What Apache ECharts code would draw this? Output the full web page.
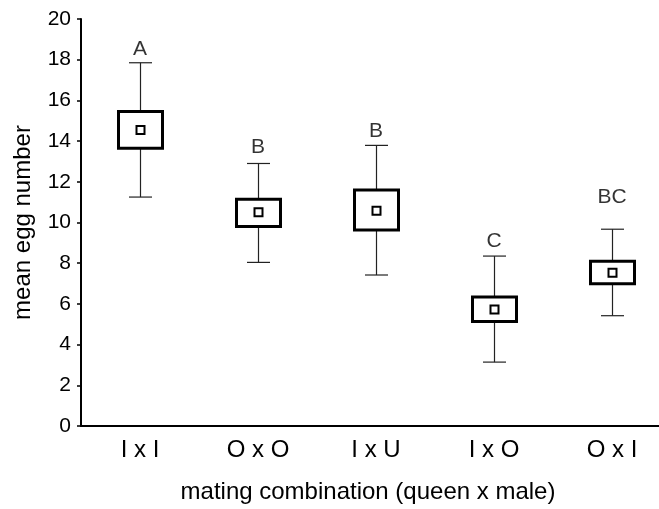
<!DOCTYPE html>
<html><head><meta charset="utf-8">
<script src="https://cdn.jsdelivr.net/npm/echarts@6/dist/echarts.min.js"></script>
<style>html,body{margin:0;padding:0;background:#fff}#c{width:659px;height:509px}</style>
</head><body><div id="c"></div>
<script>
const categories = ['I x I', 'O x O', 'I x U', 'I x O', 'O x I'];
const whiskerLow = [11.25, 8.04, 7.42, 3.14, 5.42];
const boxLow = [13.65, 9.80, 9.63, 5.14, 6.99];
const means = [14.55, 10.50, 10.58, 5.73, 7.53];
const boxHigh = [15.45, 11.14, 11.60, 6.34, 8.10];
const whiskerHigh = [17.85, 12.90, 13.79, 8.35, 9.67];
const letters = ['A', 'B', 'B', 'C', 'BC'];
const letterY = [18.53, 13.72, 14.5, 9.1, 11.24];
const yMin = 0, yMax = 20, yStep = 2;

const FONT = '"Liberation Sans", Arial, sans-serif';
const chart = echarts.init(document.getElementById('c'), null, {renderer: 'canvas'});
const boxData = categories.map((c, i) => [i, whiskerLow[i], boxLow[i], means[i], boxHigh[i], whiskerHigh[i]]);
const letterData = categories.map((c, i) => [i, letterY[i]]);

chart.setOption({
  animation: false,
  backgroundColor: '#fff',
  grid: {left: 81, top: 19, width: 590, height: 407, containLabel: false, outerBoundsMode: 'none'},
  xAxis: {
    type: 'category', data: categories, boundaryGap: true,
    axisLine: {lineStyle: {color: '#000', width: 2}},
    axisTick: {alignWithLabel: true, inside: true, length: 4, lineStyle: {color: '#000', width: 1.5}},
    axisLabel: {color: '#000', fontSize: 24, fontFamily: FONT, margin: 12},
    name: 'mating combination (queen x male)', nameLocation: 'middle', nameGap: 54,
    nameTextStyle: {color: '#000', fontSize: 24, fontFamily: FONT, padding: [0, 16, 0, 0]},
    splitLine: {show: false}
  },
  yAxis: {
    type: 'value', min: yMin, max: yMax, interval: yStep,
    axisLine: {show: true, lineStyle: {color: '#000', width: 2}},
    axisTick: {show: true, inside: false, length: 4, lineStyle: {color: '#000', width: 1.5}},
    axisLabel: {color: '#000', fontSize: 21, fontFamily: FONT, margin: 10},
    name: 'mean egg number', nameLocation: 'middle', nameGap: 46, nameRotate: 90,
    nameTextStyle: {color: '#000', fontSize: 24, fontFamily: FONT},
    splitLine: {show: false}
  },
  series: [
    {
      type: 'custom',
      data: boxData,
      encode: {x: 0, y: [1, 2, 3, 4, 5]},
      renderItem: function (params, api) {
        const i = api.value(0);
        const x = Math.round(api.coord([i, 0])[0]) + 0.5;
        const yWL = api.coord([i, api.value(1)])[1];
        const yBL = api.coord([i, api.value(2)])[1];
        const yM = api.coord([i, api.value(3)])[1];
        const yBH = api.coord([i, api.value(4)])[1];
        const yWH = api.coord([i, api.value(5)])[1];
        const boxW = 44, capW = 23, m = 8;
        const thin = {stroke: '#222', lineWidth: 1.2};
        return {
          type: 'group',
          children: [
            {type: 'line', shape: {x1: x, y1: yWL, x2: x, y2: yWH}, style: thin},
            {type: 'line', shape: {x1: x - capW / 2, y1: yWL, x2: x + capW / 2, y2: yWL}, style: thin},
            {type: 'line', shape: {x1: x - capW / 2, y1: yWH, x2: x + capW / 2, y2: yWH}, style: thin},
            {type: 'rect', shape: {x: x - boxW / 2, y: yBH, width: boxW, height: yBL - yBH},
              style: {fill: '#fff', stroke: '#000', lineWidth: 3}},
            {type: 'rect', shape: {x: x - m / 2, y: yM - m / 2, width: m, height: m},
              style: {fill: '#fff', stroke: '#000', lineWidth: 2}}
          ]
        };
      }
    },
    {
      type: 'scatter',
      data: letterData,
      symbolSize: 0,
      silent: true,
      label: {
        show: true, position: 'inside', color: '#000', fontSize: 21, fontFamily: FONT,
        formatter: function (p) { return letters[p.dataIndex]; }
      }
    }
  ]
});
</script>
</body></html>
